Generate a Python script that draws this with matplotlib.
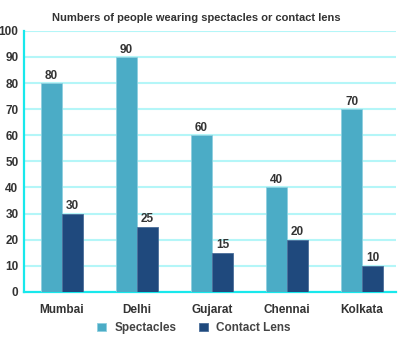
import numpy as np
import matplotlib.pyplot as plt

plt.rcParams['font.family'] = ['Liberation Sans', 'DejaVu Sans']

cities = ['Mumbai', 'Delhi', 'Gujarat', 'Chennai', 'Kolkata']
spectacles = [80, 90, 60, 40, 70]
contact_lens = [30, 25, 15, 20, 10]

SPEC_COLOR = '#4bacc6'
LENS_COLOR = '#1f497d'
TEXT_COLOR = '#333333'

fig = plt.figure(figsize=(4.06, 3.43), dpi=100, facecolor='white')
ax = fig.add_axes([0.059, 0.149, 0.916, 0.761])

x = np.arange(len(cities))
w = 0.28
b1 = ax.bar(x - w / 2, spectacles, w, color=SPEC_COLOR, edgecolor='#8fd0e0',
            linewidth=0.6, label='Spectacles', zorder=3)
b2 = ax.bar(x + w / 2, contact_lens, w, color=LENS_COLOR, edgecolor='#4a6e9a',
            linewidth=0.6, label='Contact Lens', zorder=3)

for bars in (b1, b2):
    ax.bar_label(bars, padding=1, fontsize=8.5, fontweight='bold', color=TEXT_COLOR)

ax.set_xlim(-0.507, 4.45)
ax.set_ylim(0, 100)
ax.set_yticks(range(0, 101, 10))
ax.set_xticks(x)
ax.set_xticklabels(cities)
ax.tick_params(axis='both', length=0, labelsize=8.5, colors=TEXT_COLOR)
ax.tick_params(axis='x', pad=9)
ax.tick_params(axis='y', pad=4)
for lbl in ax.get_xticklabels() + ax.get_yticklabels():
    lbl.set_fontweight('bold')

ax.grid(axis='y', color='#b4f6f8', linewidth=1.5, zorder=0)
for side in ('top', 'right'):
    ax.spines[side].set_visible(False)
for side in ('left', 'bottom'):
    ax.spines[side].set_color('#18e8ec')
    ax.spines[side].set_linewidth(1.6)

fig.text(0.484, 0.947, 'Numbers of people wearing spectacles or contact lens',
         ha='center', va='center', fontsize=8, fontweight='bold', color=TEXT_COLOR)

leg = fig.legend(handles=[b1, b2], loc='center', bbox_to_anchor=(0.478, 0.043), ncol=2,
                 frameon=False, handlelength=0.75, handleheight=0.75,
                 columnspacing=1.9, handletextpad=0.7,
                 prop={'size': 8.5, 'weight': 'bold'})
for t in leg.get_texts():
    t.set_color('#444444')

fig.savefig('out.png', dpi=100)
